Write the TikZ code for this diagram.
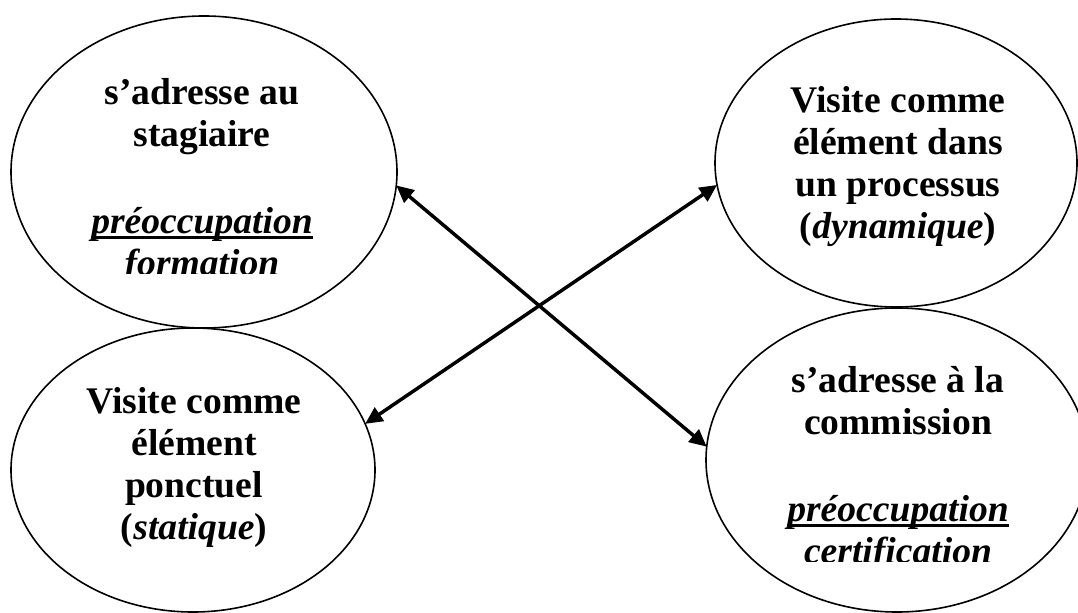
\documentclass[tikz,border=0pt]{standalone}
\usepackage{fontspec}
\setmainfont{Liberation Serif}
\usetikzlibrary{positioning, arrows.meta, shapes.geometric}

\newsavebox{\motbox}
\newcommand{\souligne}[1]{\sbox{\motbox}{#1}\rlap{\rule[-4pt]{\wd\motbox}{2.1pt}}\usebox{\motbox}}
\newcommand{\preoc}{\souligne{\textit{préoccupation}}}

\begin{document}
\begin{tikzpicture}[x=0.75pt, y=0.75pt,
    bulle/.style={ellipse, draw, line width=1.2pt, inner sep=0pt, outer sep=0pt},
    legende/.style={font=\fontsize{28.2pt}{31.5pt}\selectfont\bfseries,
                    align=center, inner sep=0pt, anchor=north},
    lien/.style={<->, >={Triangle[length=13pt,width=12pt]}, line width=2.6pt}]
  \useasboundingbox (0,0) rectangle (1078,612);
  % les quatre bulles
  \node[bulle, minimum width=289.5pt, minimum height=234pt] (stag) at (204,440) {};
  \node[bulle, minimum width=271.5pt, minimum height=216pt] (proc) at (896,449) {};
  \node[bulle, minimum width=273pt, minimum height=213pt] (ponct) at (193,142) {};
  \node[bulle, minimum width=286.5pt, minimum height=228pt] (comm) at (897,152) {};
  % textes (le bas est coupe comme dans la zone de texte)
  \begin{scope}
    \clip (0,338.5) rectangle (420,612);
    \node[legende] (stagtxt) at (202,534)
      {s’adresse au\\stagiaire\\[34pt]\preoc\\\textit{formation}};
  \end{scope}
  \node[legende] (proctxt) at (898,526)
    {Visite comme\\élément dans\\un processus\\(\textit{dynamique})};
  \node[legende] (poncttxt) at (194,225)
    {Visite comme\\élément\\ponctuel\\(\textit{statique})};
  \begin{scope}
    \clip (690,51) rectangle (1078,330);
    \node[legende] (commtxt) at (898,246)
      {s’adresse à la\\commission\\[34pt]\preoc\\\textit{certification}};
  \end{scope}
  % fleches croisees
  \draw[lien] (stag.-4) -- (comm.176);
  \draw[lien] (proc.187) -- (ponct.15);
\end{tikzpicture}
\end{document}
